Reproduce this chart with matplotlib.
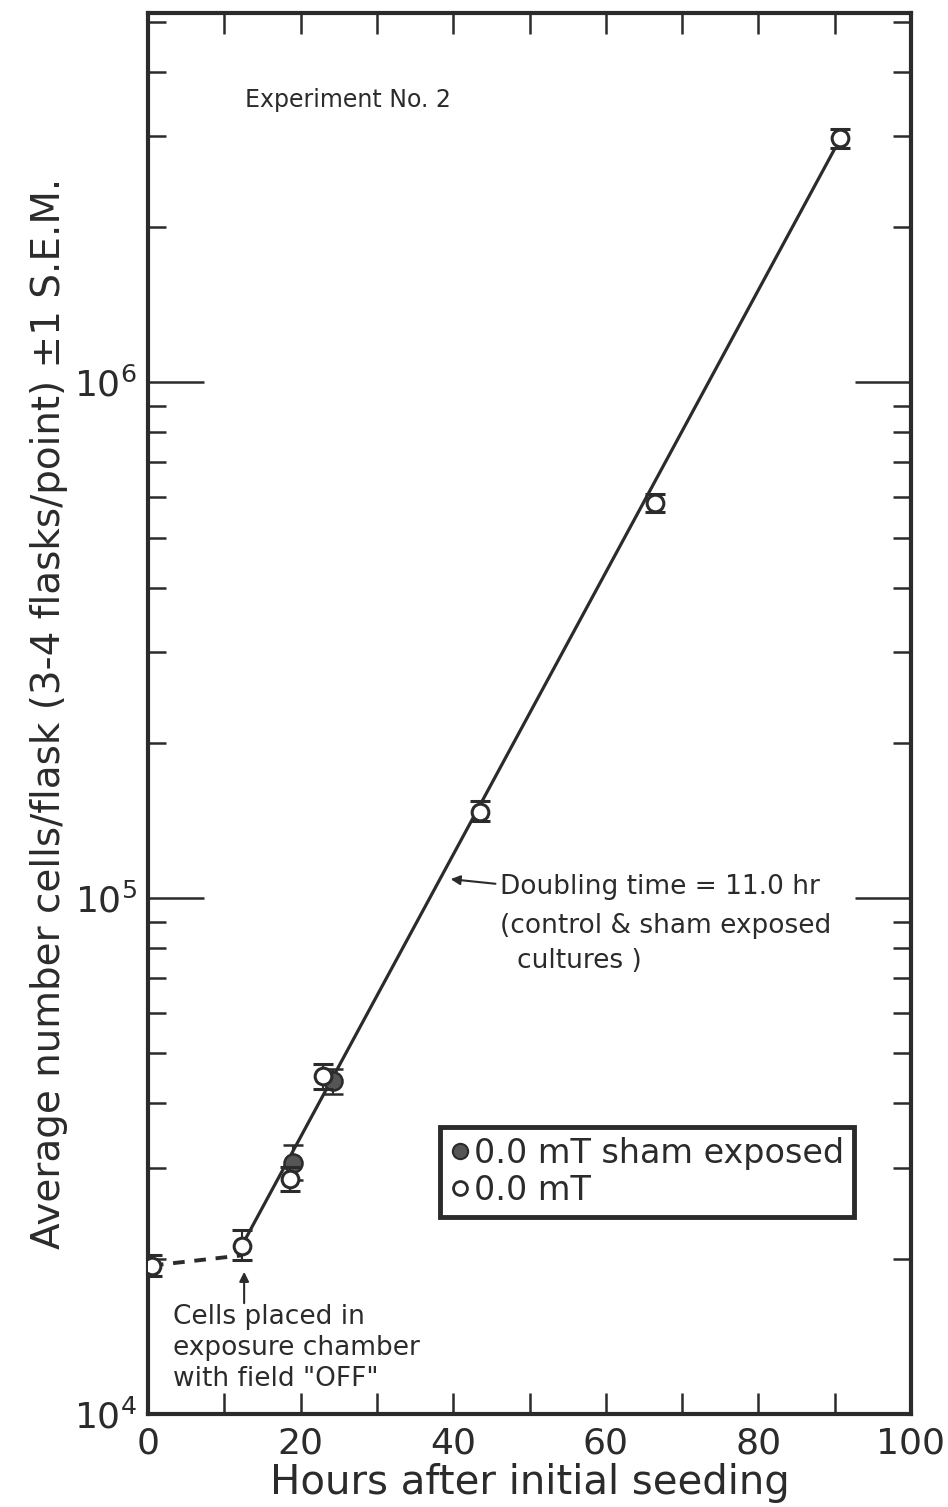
import matplotlib
matplotlib.use("Agg")
import matplotlib.pyplot as plt
import numpy as np
from matplotlib.lines import Line2D
from matplotlib.ticker import FixedLocator, LogLocator, NullFormatter, LogFormatterMathtext

# ---- data ----
open_x = [0.5, 12.3, 18.6, 22.9, 43.5, 66.4, 90.7]
open_y = [1.94e4, 2.12e4, 2.86e4, 4.52e4, 1.47e5, 5.83e5, 2.97e6]
open_err_lo = [0.09e4, 0.13e4, 0.15e4, 0.25e4, 0.06e5, 0.23e5, 0.12e6]
open_err_hi = [0.09e4, 0.15e4, 0.15e4, 0.25e4, 0.07e5, 0.25e5, 0.13e6]

sham_x = [19.0, 24.3]
sham_y = [3.06e4, 4.42e4]
sham_err_lo = [0.22e4, 0.25e4]
sham_err_hi = [0.26e4, 0.25e4]

fit_x = [12.3, 90.0]
fit_y0 = 2.12e4
doubling_time = 11.0

base_x = [0.5, 12.3]
base_y = [1.94e4, 2.03e4]

xticks = [0, 10, 20, 30, 40, 50, 60, 70, 80, 90, 100]
xticklabels = ["0", "", "20", "", "40", "", "60", "", "80", "", "100"]

INK = "#2b2b2b"

fig = plt.figure(figsize=(9.48, 15.07), dpi=100)
ax = fig.add_axes([148/948, 1 - 1414/1507, (911-148)/948, (1414-13)/1507])

ax.set_yscale("log")
ax.set_xlim(0, 100)
ax.set_ylim(1e4, 5.2e6)

# fitted growth line
fx = np.array(fit_x)
fy = fit_y0 * 2 ** ((fx - fit_x[0]) / doubling_time)
ax.plot(fx, fy, color=INK, lw=2.3, zorder=2, solid_capstyle="round")
ax.plot(base_x, base_y, color=INK, lw=2.8, ls=(0, (3, 2.5)), zorder=2)

# points
ax.errorbar(open_x, open_y, yerr=[open_err_lo, open_err_hi], fmt="o", ms=12,
            mfc="white", mec=INK, mew=2.2, ecolor=INK, elinewidth=1.5,
            capsize=7, capthick=2.2, zorder=4)
ax.errorbar(sham_x, sham_y, yerr=[sham_err_lo, sham_err_hi], fmt="o", ms=13,
            mfc="#555555", mec=INK, mew=1.8, ecolor=INK, elinewidth=1.5,
            capsize=7, capthick=2.2, zorder=3)

# ticks
ax.xaxis.set_major_locator(FixedLocator(xticks))
ax.set_xticklabels(xticklabels)
ax.yaxis.set_major_locator(LogLocator(base=10, numticks=10))
ax.yaxis.set_minor_locator(LogLocator(base=10, subs=np.arange(2, 10), numticks=20))
ax.yaxis.set_major_formatter(LogFormatterMathtext())
ax.yaxis.set_minor_formatter(NullFormatter())
ax.tick_params(axis="x", which="major", direction="in", length=15, width=1.8,
               top=True, bottom=True, labelsize=26, pad=9, colors=INK)
ax.tick_params(axis="y", which="major", direction="in", length=40, width=1.8,
               left=True, right=True, labelsize=26, pad=8, colors=INK)
ax.tick_params(axis="y", which="minor", direction="in", length=13, width=1.8,
               left=True, right=True, colors=INK)
for s in ax.spines.values():
    s.set_linewidth(3)
    s.set_color(INK)

ax.set_xlabel("Hours after initial seeding", fontsize=29, color=INK, labelpad=2)
ax.set_ylabel("Average number cells/flask (3-4 flasks/point) \u00b11 S.E.M.",
              fontsize=28, color=INK, labelpad=4)

# annotations
ax.text(0.127, 0.938, "Experiment No. 2", transform=ax.transAxes, fontsize=17,
        color=INK, va="center", ha="left")

ax.annotate("", xy=(39.3, 1.09e5), xytext=(45.9, 1.065e5),
            arrowprops=dict(arrowstyle="-|>", color=INK, lw=1.5, mutation_scale=14))
ax.text(0.461, 0.376, "Doubling time = 11.0 hr", transform=ax.transAxes,
        fontsize=19, color=INK, va="center", ha="left")
ax.text(0.461, 0.348, "(control & sham exposed", transform=ax.transAxes,
        fontsize=19, color=INK, va="center", ha="left")
ax.text(0.484, 0.323, "cultures )", transform=ax.transAxes,
        fontsize=19, color=INK, va="center", ha="left")

ax.annotate("", xy=(12.6, 1.91e4), xytext=(12.6, 1.62e4),
            arrowprops=dict(arrowstyle="-|>", color=INK, lw=1.5, mutation_scale=14))
for yy, s in [(0.069, "Cells placed in"), (0.047, "exposure chamber"),
              (0.025, 'with field "OFF"')]:
    ax.text(0.033, yy, s, transform=ax.transAxes, fontsize=19, color=INK,
            va="center", ha="left")

# legend
h_sham = Line2D([], [], ls="none", marker="o", ms=11, mfc="#555555", mec=INK, mew=1.5)
h_open = Line2D([], [], ls="none", marker="o", ms=10, mfc="white", mec=INK, mew=2)
leg = ax.legend([h_sham, h_open], ["0.0 mT sham exposed", "0.0 mT"],
                loc="upper left", bbox_to_anchor=(0.383, 0.205),
                fontsize=24, frameon=True, fancybox=False, edgecolor=INK,
                framealpha=1, borderpad=0.3, handletextpad=0.1, handlelength=0.6,
                labelspacing=0.12, borderaxespad=0, borderaxespad_=None) if False else \
      ax.legend([h_sham, h_open], ["0.0 mT sham exposed", "0.0 mT"],
                loc="upper left", bbox_to_anchor=(0.383, 0.205),
                fontsize=24, frameon=True, fancybox=False, edgecolor=INK,
                framealpha=1, borderpad=0.3, handletextpad=0.1, handlelength=0.6,
                labelspacing=0.12, borderaxespad=0)
leg.get_frame().set_linewidth(3.5)
for t in leg.get_texts():
    t.set_color(INK)

fig.savefig("out.png", dpi=100, facecolor="white")
